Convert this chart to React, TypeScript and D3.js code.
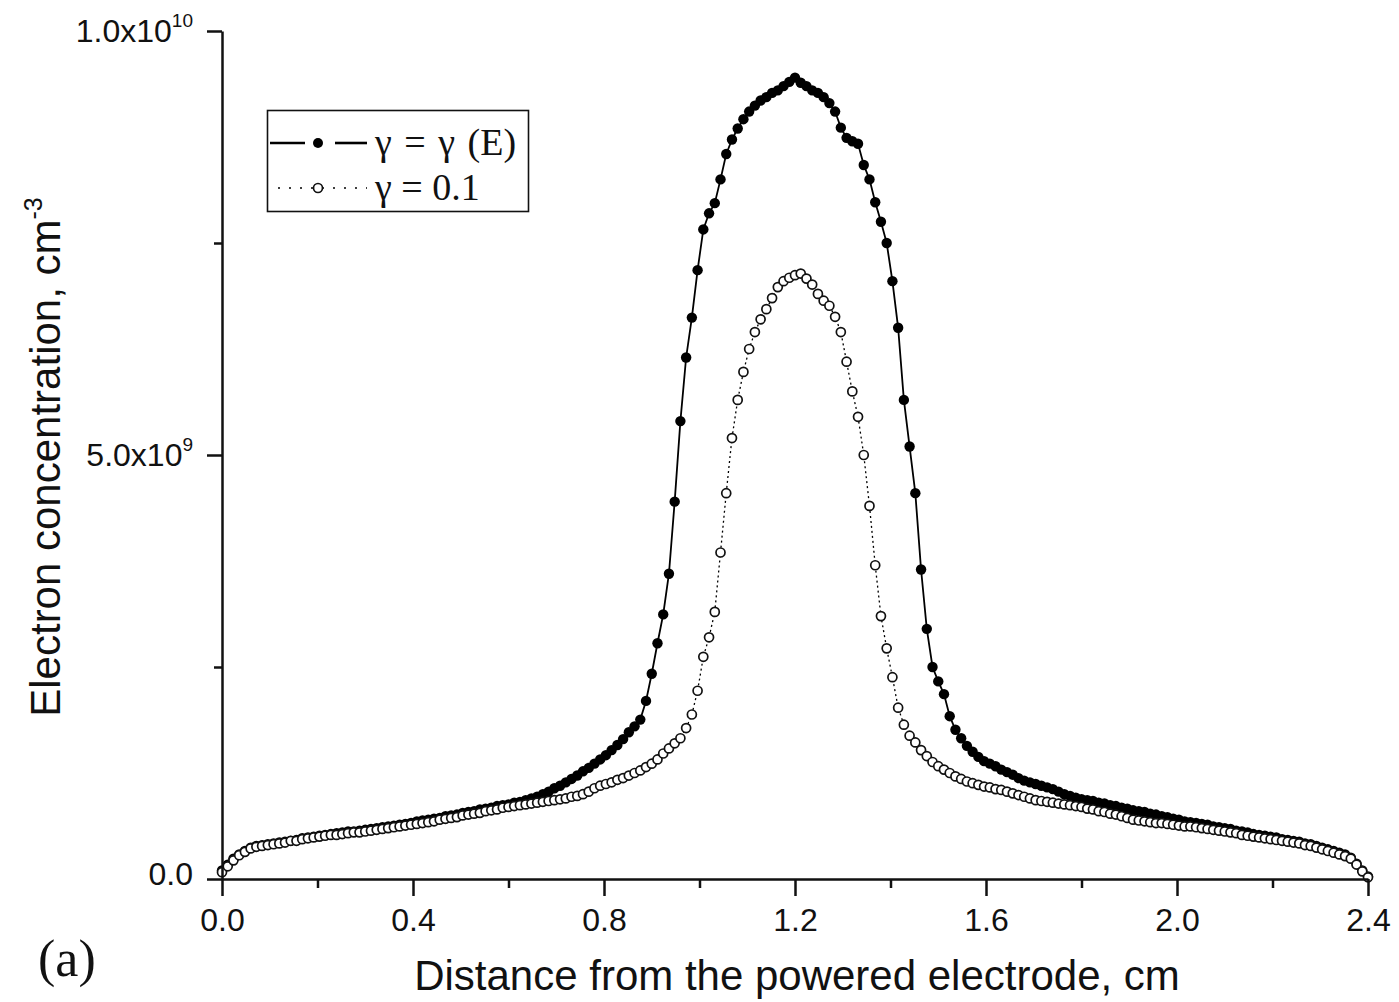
import React, { useEffect, useRef } from 'react';
import * as d3 from 'd3';

// grid spacing of the simulation points, cm
const STEP = 0.012;

// electron concentration, units of 1e9 cm^-3, one value per grid point (0 .. 2.4 cm)
const gammaE = [
  0.10, 0.17, 0.24, 0.29, 0.33, 0.37, 0.39, 0.40, 0.41, 0.42,
  0.43, 0.44, 0.45, 0.46, 0.48, 0.49, 0.50, 0.51, 0.52, 0.53,
  0.54, 0.55, 0.56, 0.56, 0.57, 0.58, 0.59, 0.60, 0.61, 0.62,
  0.63, 0.64, 0.65, 0.66, 0.68, 0.69, 0.70, 0.71, 0.72, 0.74,
  0.75, 0.76, 0.78, 0.79, 0.80, 0.82, 0.83, 0.84, 0.86, 0.87,
  0.88, 0.90, 0.91, 0.93, 0.95, 0.97, 1.00, 1.03, 1.07, 1.10,
  1.14, 1.18, 1.22, 1.27, 1.31, 1.36, 1.41, 1.46, 1.52, 1.58,
  1.65, 1.73, 1.80, 1.88, 2.10, 2.42, 2.78, 3.12, 3.60, 4.45,
  5.40, 6.15, 6.62, 7.18, 7.66, 7.85, 7.97, 8.25, 8.55, 8.72,
  8.85, 8.96, 9.05, 9.12, 9.18, 9.22, 9.27, 9.30, 9.35, 9.40,
  9.45, 9.39, 9.35, 9.30, 9.27, 9.22, 9.15, 9.05, 8.86, 8.74,
  8.70, 8.67, 8.42, 8.25, 7.98, 7.75, 7.50, 7.05, 6.50, 5.65,
  5.10, 4.55, 3.65, 2.95, 2.50, 2.33, 2.18, 1.92, 1.76, 1.66,
  1.57, 1.50, 1.44, 1.39, 1.36, 1.33, 1.29, 1.26, 1.23, 1.19,
  1.16, 1.14, 1.12, 1.10, 1.08, 1.06, 1.03, 1.00, 0.98, 0.96,
  0.94, 0.93, 0.92, 0.90, 0.89, 0.87, 0.86, 0.84, 0.83, 0.81,
  0.80, 0.79, 0.77, 0.76, 0.74, 0.73, 0.71, 0.70, 0.68, 0.67,
  0.66, 0.65, 0.64, 0.62, 0.61, 0.60, 0.59, 0.57, 0.56, 0.55,
  0.53, 0.52, 0.51, 0.50, 0.49, 0.47, 0.46, 0.45, 0.44, 0.42,
  0.41, 0.39, 0.37, 0.35, 0.33, 0.31, 0.29, 0.25, 0.18, 0.10,
  0.03
];

const gamma01 = [
  0.08, 0.15, 0.22, 0.28, 0.32, 0.36, 0.38, 0.39, 0.40, 0.41,
  0.42, 0.43, 0.45, 0.45, 0.47, 0.48, 0.49, 0.50, 0.51, 0.52,
  0.52, 0.53, 0.54, 0.55, 0.55, 0.56, 0.57, 0.58, 0.59, 0.60,
  0.61, 0.62, 0.63, 0.64, 0.65, 0.66, 0.67, 0.68, 0.70, 0.71,
  0.72, 0.73, 0.75, 0.76, 0.77, 0.78, 0.80, 0.81, 0.82, 0.84,
  0.85, 0.86, 0.87, 0.88, 0.89, 0.90, 0.91, 0.92, 0.93, 0.94,
  0.95, 0.97, 0.98, 1.00, 1.03, 1.07, 1.10, 1.12, 1.14, 1.17,
  1.19, 1.22, 1.25, 1.28, 1.32, 1.36, 1.41, 1.48, 1.54, 1.60,
  1.66, 1.78, 1.94, 2.22, 2.62, 2.85, 3.15, 3.85, 4.55, 5.20,
  5.65, 5.98, 6.25, 6.45, 6.60, 6.72, 6.85, 6.98, 7.05, 7.09,
  7.12, 7.14, 7.08, 7.01, 6.90, 6.82, 6.76, 6.63, 6.45, 6.10,
  5.75, 5.45, 5.00, 4.40, 3.70, 3.10, 2.72, 2.38, 2.02, 1.82,
  1.69, 1.61, 1.52, 1.45, 1.38, 1.33, 1.29, 1.25, 1.21, 1.18,
  1.15, 1.13, 1.11, 1.09, 1.08, 1.06, 1.05, 1.03, 1.01, 0.99,
  0.97, 0.95, 0.93, 0.92, 0.91, 0.90, 0.89, 0.88, 0.87, 0.86,
  0.85, 0.83, 0.82, 0.80, 0.79, 0.77, 0.76, 0.74, 0.72, 0.70,
  0.69, 0.68, 0.67, 0.66, 0.66, 0.65, 0.64, 0.63, 0.62, 0.62,
  0.61, 0.60, 0.59, 0.58, 0.57, 0.56, 0.55, 0.54, 0.52, 0.51,
  0.50, 0.49, 0.48, 0.47, 0.46, 0.45, 0.44, 0.43, 0.42, 0.40,
  0.39, 0.37, 0.35, 0.33, 0.31, 0.29, 0.27, 0.24, 0.17, 0.09,
  0.02
];

const xTicks = [0, 0.4, 0.8, 1.2, 1.6, 2.0, 2.4];
const xMinorTicks = [0.2, 0.6, 1.0, 1.4, 1.8, 2.2];
const yTicks = [0, 5, 10];
const yMinorTicks = [2.5, 7.5];
const yTickText = ['0.0', '5.0x10', '1.0x10'];
const yTickExp = ['', '9', '10'];

const SANS = '"Liberation Sans", Arial, sans-serif';
const SERIF = '"Liberation Serif", "Times New Roman", serif';

type Pt = { d: number; v: number };

function App() {
  const svgRef = useRef<SVGSVGElement>(null);

  useEffect(() => {
    const width = 1399;
    const height = 1002;

    const svg = d3.select(svgRef.current)
      .attr('width', width)
      .attr('height', height);

    svg.selectAll('*').remove();

    const x = d3.scaleLinear().domain([0, 2.4]).range([222, 1368]);
    const y = d3.scaleLinear().domain([0, 10]).range([879, 31]);

    const toPoints = (vals: number[]): Pt[] => vals.map((v, i) => ({ d: i * STEP, v }));
    const seriesE = toPoints(gammaE);
    const series01 = toPoints(gamma01);

    const line = d3.line<Pt>()
      .x(p => x(p.d))
      .y(p => y(p.v));

    // gamma = gamma(E): solid line, filled dots
    svg.append('path')
      .datum(seriesE)
      .attr('fill', 'none')
      .attr('stroke', '#000')
      .attr('stroke-width', 1.8)
      .attr('d', line);

    svg.append('g')
      .selectAll('circle')
      .data(seriesE)
      .join('circle')
      .attr('cx', p => x(p.d))
      .attr('cy', p => y(p.v))
      .attr('r', 5.2)
      .attr('fill', '#000');

    // gamma = 0.1: dotted line, open circles
    svg.append('path')
      .datum(series01)
      .attr('fill', 'none')
      .attr('stroke', '#000')
      .attr('stroke-width', 1.3)
      .attr('stroke-dasharray', '2,3')
      .attr('d', line);

    svg.append('g')
      .selectAll('circle')
      .data(series01)
      .join('circle')
      .attr('cx', p => x(p.d))
      .attr('cy', p => y(p.v))
      .attr('r', 4.5)
      .attr('fill', '#fff')
      .attr('stroke', '#111')
      .attr('stroke-width', 1.7);

    // X axis
    const gx = svg.append('g')
      .attr('transform', `translate(0,${y(0)})`)
      .call(d3.axisBottom(x).tickValues(xTicks).tickFormat(d3.format('.1f')).tickSize(17).tickSizeOuter(0).tickPadding(12));
    gx.attr('font-family', SANS).attr('font-size', 32);
    gx.selectAll('line, path').attr('stroke', '#111').attr('stroke-width', 2.5);
    gx.selectAll('text').attr('fill', '#111');

    const gxm = svg.append('g')
      .attr('transform', `translate(0,${y(0)})`)
      .call(d3.axisBottom(x).tickValues(xMinorTicks).tickFormat(() => '').tickSize(9));
    gxm.select('.domain').remove();
    gxm.selectAll('line').attr('stroke', '#111').attr('stroke-width', 2.5);

    // Y axis
    const gy = svg.append('g')
      .attr('transform', `translate(${x(0)},0)`)
      .call(d3.axisLeft(y).tickValues(yTicks).tickFormat(() => '').tickSize(15).tickSizeOuter(0));
    gy.selectAll('line, path').attr('stroke', '#111').attr('stroke-width', 2.5);

    const gym = svg.append('g')
      .attr('transform', `translate(${x(0)},0)`)
      .call(d3.axisLeft(y).tickValues(yMinorTicks).tickFormat(() => '').tickSize(8));
    gym.select('.domain').remove();
    gym.selectAll('line').attr('stroke', '#111').attr('stroke-width', 2.5);

    // Y tick labels with superscript exponents
    svg.append('g')
      .selectAll('text')
      .data(yTicks)
      .join('text')
      .attr('x', 193)
      .attr('y', d => y(d) + (d === 0 ? 6 : 11))
      .attr('text-anchor', 'end')
      .attr('font-family', SANS)
      .attr('font-size', 32)
      .attr('fill', '#111')
      .each(function (d, i) {
        const t = d3.select(this);
        t.append('tspan').text(yTickText[i]);
        if (yTickExp[i]) {
          t.append('tspan').attr('dy', -15).attr('font-size', 19).text(yTickExp[i]);
        }
      });

    // Axis titles
    svg.append('text')
      .attr('x', 797)
      .attr('y', 990)
      .attr('text-anchor', 'middle')
      .attr('font-family', SANS)
      .attr('font-size', 42)
      .attr('fill', '#111')
      .text('Distance from the powered electrode, cm');

    const yTitle = svg.append('text')
      .attr('transform', 'translate(60,457) rotate(-90)')
      .attr('text-anchor', 'middle')
      .attr('font-family', SANS)
      .attr('font-size', 42)
      .attr('fill', '#111');
    yTitle.append('tspan').text('Electron concentration, cm');
    yTitle.append('tspan').attr('dy', -18).attr('font-size', 25).text('-3');

    // panel label
    svg.append('text')
      .attr('x', 38)
      .attr('y', 976)
      .attr('font-family', SERIF)
      .attr('font-size', 52)
      .attr('fill', '#111')
      .text('(a)');

    // Legend
    const lg = svg.append('g');
    lg.append('rect')
      .attr('x', 267.5)
      .attr('y', 110.5)
      .attr('width', 261)
      .attr('height', 101)
      .attr('fill', '#fff')
      .attr('stroke', '#111')
      .attr('stroke-width', 1.6);

    lg.append('line').attr('x1', 270).attr('x2', 305).attr('y1', 143).attr('y2', 143)
      .attr('stroke', '#000').attr('stroke-width', 2.6);
    lg.append('line').attr('x1', 335).attr('x2', 367).attr('y1', 143).attr('y2', 143)
      .attr('stroke', '#000').attr('stroke-width', 2.6);
    lg.append('circle').attr('cx', 318).attr('cy', 143).attr('r', 5).attr('fill', '#000');
    lg.append('text')
      .attr('x', 375).attr('y', 155)
      .attr('font-family', SERIF).attr('font-size', 38).attr('fill', '#111')
      .attr('word-spacing', 3)
      .text('γ = γ (E)');

    lg.append('line').attr('x1', 278).attr('x2', 367).attr('y1', 188).attr('y2', 188)
      .attr('stroke', '#000').attr('stroke-width', 1.6).attr('stroke-dasharray', '2,9');
    lg.append('circle').attr('cx', 318).attr('cy', 188).attr('r', 4.5)
      .attr('fill', '#fff').attr('stroke', '#111').attr('stroke-width', 1.7);
    lg.append('text')
      .attr('x', 375).attr('y', 200)
      .attr('font-family', SERIF).attr('font-size', 38).attr('fill', '#111')
      .text('γ = 0.1');
  }, []);

  return (
    <svg
      ref={svgRef}
      style={{ position: 'absolute', left: 0, top: 0, background: '#fff', display: 'block' }}
    />
  );
}

export default App;
